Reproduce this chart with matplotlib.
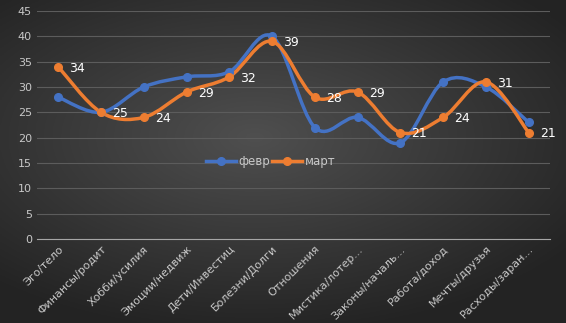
import numpy as np
import matplotlib.pyplot as plt
from matplotlib.path import Path
from matplotlib.patches import PathPatch
from matplotlib.lines import Line2D

CATEGORIES = [
    "Эго/тело", "Финансы/родит", "Хобби/усилия", "Эмоции/недвиж",
    "Дети/Инвестиц", "Болезни/Долги", "Отношения", "Мистика/лотер...",
    "Законы/началь...", "Работа/доход", "Мечты/друзья", "Расходы/заран...",
]
FEB = [28, 25, 30, 32, 33, 40, 22, 24, 19, 31, 30, 23]
MAR = [34, 25, 24, 29, 32, 39, 28, 29, 21, 24, 31, 21]
SERIES_NAMES = ["февр", "март"]

BLUE = "#4472C4"
ORANGE = "#ED7D31"
TEXT = "#c8c8c8"


def smooth_path(xs, ys, k=1 / 6):
    # Excel-style smoothed line: cubic Bezier segments through the points
    xs = np.asarray(xs, float)
    ys = np.asarray(ys, float)
    n = len(xs)
    verts = [(xs[0], ys[0])]
    codes = [Path.MOVETO]
    for i in range(n - 1):
        p0 = i - 1 if i > 0 else i
        p3 = i + 2 if i + 2 < n else i + 1
        c1 = (xs[i] + (xs[i + 1] - xs[p0]) * k, ys[i] + (ys[i + 1] - ys[p0]) * k)
        c2 = (xs[i + 1] - (xs[p3] - xs[i]) * k, ys[i + 1] - (ys[p3] - ys[i]) * k)
        verts += [c1, c2, (xs[i + 1], ys[i + 1])]
        codes += [Path.CURVE4] * 3
    return Path(verts, codes)


fig = plt.figure(figsize=(5.66, 3.23), dpi=100)

# dark radial gradient background
bg = fig.add_axes([0, 0, 1, 1], zorder=-10)
gx, gy = np.meshgrid(np.linspace(-1, 1, 300), np.linspace(-1, 1, 200))
r = np.sqrt(((gx + 0.1) * 0.9) ** 2 + (gy * 1.0 + 0.15) ** 2)
shade = np.clip(0.31 - 0.14 * r, 0.14, 0.31)
bg.imshow(np.dstack([shade] * 3), aspect="auto", extent=[0, 1, 0, 1])
bg.axis("off")

ax = fig.add_axes([0.065, 0.26, 0.907, 0.706])
ax.set_facecolor("none")
x = np.arange(len(CATEGORIES))

for vals, color in [(FEB, BLUE), (MAR, ORANGE)]:
    patch = PathPatch(smooth_path(x, vals), facecolor="none", edgecolor=color,
                      linewidth=2.5, capstyle="round", joinstyle="round", zorder=3)
    ax.add_patch(patch)
    ax.plot(x, vals, linestyle="none", marker="o", markersize=5.5,
            color=color, zorder=4)

for xi, v in zip(x, MAR):
    ax.annotate(str(v), (xi, v), xytext=(8, -1), textcoords="offset points",
                color="white", fontsize=9, va="center", ha="left", zorder=5)

ax.set_xlim(-0.5, len(CATEGORIES) - 0.5)
ax.set_ylim(0, 45)
ax.set_yticks(np.arange(0, 46, 5))
ax.grid(axis="y", color="#5c5c5c", linewidth=0.8)
ax.set_axisbelow(True)
for side in ["top", "right", "left"]:
    ax.spines[side].set_visible(False)
ax.spines["bottom"].set_color("#a6a6a6")
ax.tick_params(axis="both", length=0, colors=TEXT, labelsize=8)
ax.set_xticks(x)
ax.set_xticklabels(CATEGORIES, rotation=45, ha="right", rotation_mode="anchor")

handles = [
    Line2D([], [], color=BLUE, linewidth=2.5, marker="o", markersize=5.5),
    Line2D([], [], color=ORANGE, linewidth=2.5, marker="o", markersize=5.5),
]
ax.legend(handles, SERIES_NAMES, loc="center", bbox_to_anchor=(0.455, 0.34),
          ncol=2, frameon=False, fontsize=8.5, labelcolor=TEXT,
          handlelength=2.6, handletextpad=0.2, columnspacing=0.1)

fig.savefig("out.png", dpi=100)
